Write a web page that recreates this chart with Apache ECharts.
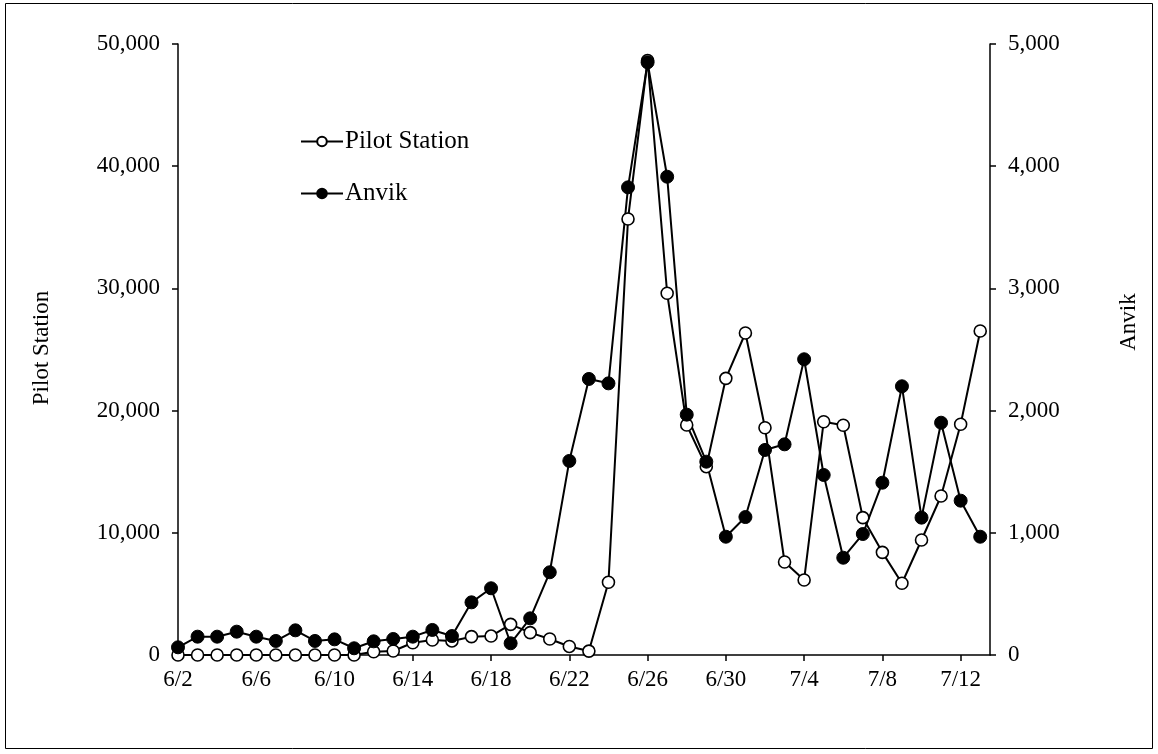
<!DOCTYPE html>
<html>
<head>
<meta charset="utf-8">
<script src="https://cdn.jsdelivr.net/npm/echarts@6/dist/echarts.min.js"></script>
<style>
html,body{margin:0;padding:0;background:#fff;}
#chart{width:1158px;height:754px;}
</style>
</head>
<body>
<div id="chart"></div>
<script>
var dates = ['6/2','6/3','6/4','6/5','6/6','6/7','6/8','6/9','6/10','6/11','6/12','6/13','6/14','6/15','6/16','6/17','6/18','6/19','6/20','6/21','6/22','6/23','6/24','6/25','6/26','6/27','6/28','6/29','6/30','7/1','7/2','7/3','7/4','7/5','7/6','7/7','7/8','7/9','7/10','7/11','7/12','7/13'];
var pilotStation = [0,0,0,0,0,0,0,0,0,0,270,330,1000,1230,1150,1500,1550,2510,1830,1310,700,320,5950,35680,48650,29600,18820,15410,22640,26350,18600,7610,6140,19090,18800,11240,8400,5870,9410,13010,18880,26510];
var anvik = [63,150,150,191,150,115,202,115,128,55,112,131,150,205,155,431,546,96,300,677,1588,2259,2223,3827,4850,3914,1967,1582,968,1129,1678,1724,2420,1473,796,990,1410,2199,1124,1901,1263,968];
var xTickIdx = [0,4,8,12,16,20,24,28,32,36,40];

var FONT = '"Liberation Serif","Times New Roman",serif';
function commas(v){ return String(v).replace(/\B(?=(\d{3})+(?!\d))/g, ','); }
function pairs(arr){ return arr.map(function(v,i){ return [i, v]; }); }

var chart = echarts.init(document.getElementById('chart'), null, {renderer:'canvas'});
var axisLineStyle = {color:'#000', width:1.5};
chart.setOption({
  backgroundColor:'#fff',
  animation:false,
  textStyle:{fontFamily:FONT, color:'#000'},
  grid:{left:178, right:168, top:44, bottom:99, containLabel:false},
  legend:{
    orient:'vertical', left:300, top:129, padding:0, itemWidth:42, itemHeight:12, itemGap:27,
    textStyle:{fontFamily:FONT, fontSize:25, color:'#000', lineHeight:25, padding:[0,0,0,-3]},
    data:['Pilot Station','Anvik']
  },
  xAxis:{
    type:'value', min:0, max:41.5,
    axisLine:{show:true, onZero:false, lineStyle:axisLineStyle},
    axisTick:{show:true, inside:false, length:6, lineStyle:axisLineStyle, customValues:xTickIdx},
    axisLabel:{fontFamily:FONT, fontSize:23, color:'#000', margin:13, customValues:xTickIdx,
      formatter:function(v){ return dates[Math.round(v)] || ''; }},
    splitLine:{show:false}
  },
  yAxis:[{
    type:'value', min:0, max:50000, interval:10000, position:'left',
    axisLine:{show:true, lineStyle:axisLineStyle},
    axisTick:{show:true, inside:false, length:6, lineStyle:axisLineStyle},
    axisLabel:{fontFamily:FONT, fontSize:23, color:'#000', margin:18, formatter:function(v){return commas(v);}},
    splitLine:{show:false}
  },{
    type:'value', min:0, max:5000, interval:1000, position:'right',
    axisLine:{show:true, lineStyle:axisLineStyle},
    axisTick:{show:true, inside:false, length:6, lineStyle:axisLineStyle},
    axisLabel:{fontFamily:FONT, fontSize:23, color:'#000', margin:18, formatter:function(v){return commas(v);}},
    splitLine:{show:false}
  }],
  series:[{
    name:'Pilot Station', type:'line', yAxisIndex:0, data:pairs(pilotStation),
    symbol:'circle', symbolSize:12, showAllSymbol:true,
    lineStyle:{color:'#000', width:2},
    itemStyle:{color:'#fff', borderColor:'#000', borderWidth:1.6},
    emphasis:{disabled:true}
  },{
    name:'Anvik', type:'line', yAxisIndex:1, data:pairs(anvik),
    symbol:'circle', symbolSize:13, showAllSymbol:true,
    lineStyle:{color:'#000', width:2},
    itemStyle:{color:'#000', borderColor:'#000', borderWidth:1},
    emphasis:{disabled:true}
  }],
  graphic:[
    {type:'rect', shape:{x:5.5, y:3.5, width:1147, height:745}, style:{fill:null, stroke:'#000', lineWidth:1}, silent:true, z:-1},
    {type:'text', x:42, y:348, rotation:Math.PI/2, style:{text:'Pilot Station', font:'23px ' + FONT, fill:'#000', align:'center', verticalAlign:'middle'}},
    {type:'text', x:1129, y:322, rotation:Math.PI/2, style:{text:'Anvik', font:'23px ' + FONT, fill:'#000', align:'center', verticalAlign:'middle'}}
  ]
});
</script>
</body>
</html>
